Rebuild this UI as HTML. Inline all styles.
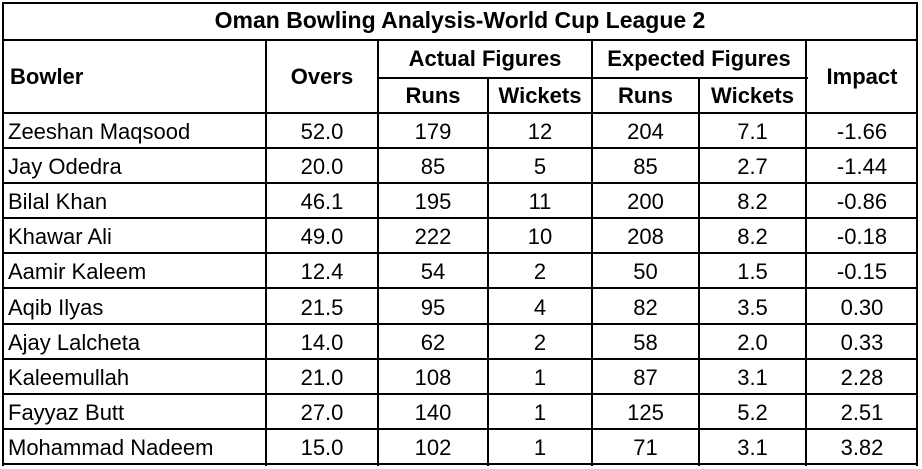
<!DOCTYPE html>
<html><head><style>
body{margin:0;width:922px;height:469px;background:#fff;position:relative;overflow:hidden;font-family:"Liberation Sans",Arial,sans-serif;color:#000}
.h{position:absolute;height:2px;background:#000}
.v{position:absolute;width:2px;background:#000}
.t{position:absolute;font-size:22px;line-height:35px;text-align:center;white-space:nowrap}
.b{font-weight:bold}
</style></head><body>
<div class="h" style="left:2px;top:2px;width:916px"></div>
<div class="h" style="left:2px;top:39px;width:916px"></div>
<div class="h" style="left:378px;top:77px;width:430px"></div>
<div class="h" style="left:2px;top:112px;width:916px"></div>
<div id="rows"></div>
<div class="v" style="left:2px;top:2px;height:464px"></div>
<div class="v" style="left:916px;top:2px;height:464px"></div>
<div class="v" style="left:265px;top:39px;height:427px"></div>
<div class="v" style="left:377px;top:39px;height:427px"></div>
<div class="v" style="left:487px;top:77px;height:389px"></div>
<div class="v" style="left:591px;top:39px;height:427px"></div>
<div class="v" style="left:698px;top:77px;height:389px"></div>
<div class="v" style="left:805px;top:39px;height:427px"></div>
<div class="t b" style="left:2px;width:916px;top:3px;font-size:23px">Oman Bowling Analysis-World Cup League 2</div>
<div class="t b" style="left:10px;top:59px">Bowler</div>
<div class="t b" style="left:266px;width:112px;top:59px">Overs</div>
<div class="t b" style="left:378px;width:214px;top:41px">Actual Figures</div>
<div class="t b" style="left:592px;width:214px;top:41px">Expected Figures</div>
<div class="t b" style="left:806px;width:112px;top:59px">Impact</div>
<div class="t b" style="left:378px;width:110px;top:78px">Runs</div>
<div class="t b" style="left:488px;width:104px;top:78px">Wickets</div>
<div class="t b" style="left:592px;width:107px;top:78px">Runs</div>
<div class="t b" style="left:699px;width:107px;top:78px">Wickets</div>
<script>
var d=[["Zeeshan Maqsood","52.0","179","12","204","7.1","-1.66"],["Jay Odedra","20.0","85","5","85","2.7","-1.44"],["Bilal Khan","46.1","195","11","200","8.2","-0.86"],["Khawar Ali","49.0","222","10","208","8.2","-0.18"],["Aamir Kaleem","12.4","54","2","50","1.5","-0.15"],["Aqib Ilyas","21.5","95","4","82","3.5","0.30"],["Ajay Lalcheta","14.0","62","2","58","2.0","0.33"],["Kaleemullah","21.0","108","1","87","3.1","2.28"],["Fayyaz Butt","27.0","140","1","125","5.2","2.51"],["Mohammad Nadeem","15.0","102","1","71","3.1","3.82"]];
var c=[[266,112],[378,110],[488,104],[592,107],[699,107],[806,112]];
var h="";
for(var i=0;i<10;i++){var y=113+i*35.1;
h+='<div class="h" style="left:2px;width:916px;top:'+Math.round(y+34)+'px"></div>';
h+='<div class="t" style="left:8px;top:'+Math.round(y+1)+'px">'+d[i][0]+'</div>';
for(var j=0;j<6;j++)h+='<div class="t" style="left:'+c[j][0]+'px;width:'+c[j][1]+'px;top:'+Math.round(y+1)+'px">'+d[i][j+1]+'</div>';}
document.getElementById("rows").innerHTML=h;
</script>
</body></html>
